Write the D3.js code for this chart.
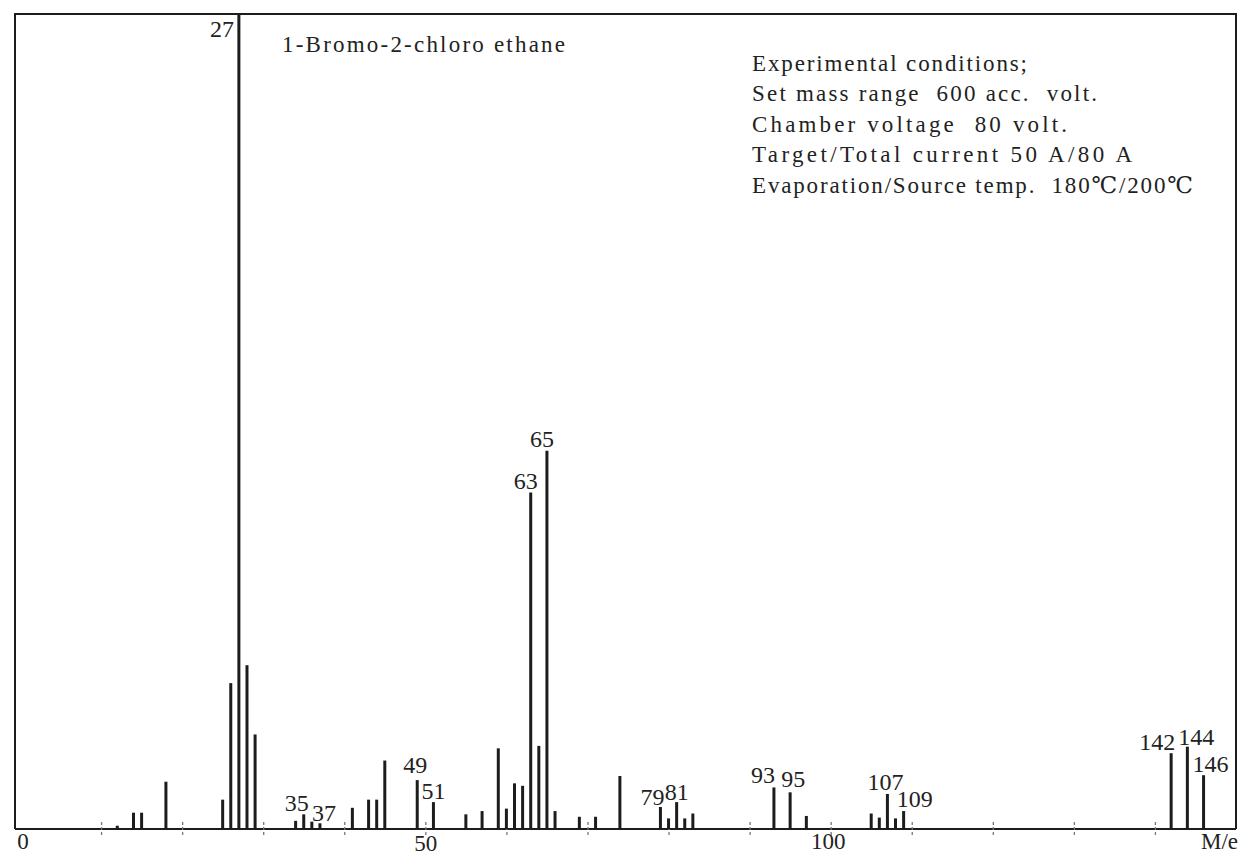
<!DOCTYPE html>
<html>
<head>
<meta charset="utf-8">
<script src="https://cdn.jsdelivr.net/npm/d3@7"></script>
<style>
  html, body { margin: 0; padding: 0; background: #ffffff; }
  svg { display: block; }
  text { font-family: "Liberation Serif", "DejaVu Serif", "Noto Sans CJK JP", serif; fill: #222; }
</style>
</head>
<body>
<svg id="chart" width="1239" height="856"></svg>
<script>
// ---- data (m/e and relative intensity, % of full scale) ----
const masses = [12, 14, 15, 18, 25, 26, 27, 28, 29, 34, 35, 36, 37, 41, 43, 44, 45, 49, 51,
                55, 57, 59, 60, 61, 62, 63, 64, 65, 66, 69, 71, 74, 79, 80, 81, 82, 83,
                93, 95, 97, 105, 106, 107, 108, 109, 142, 144, 146];
const intensities = [0.4, 2.0, 2.0, 5.8, 3.6, 17.9, 100, 20.1, 11.6, 1.0, 1.8, 0.9, 0.7, 2.6, 3.6, 3.6, 8.4, 6.0, 3.3,
                     1.8, 2.2, 9.9, 2.5, 5.6, 5.3, 41.3, 10.2, 46.4, 2.2, 1.5, 1.5, 6.5, 2.7, 1.3, 3.3, 1.3, 1.9,
                     5.1, 4.5, 1.6, 1.9, 1.4, 4.3, 1.3, 2.2, 9.3, 10.1, 6.6];
const labelledMasses = [27, 35, 37, 49, 51, 63, 65, 79, 81, 93, 95, 107, 109, 142, 144, 146];
const tickValues = [10, 20, 30, 40, 50, 60, 70, 80, 90, 100, 110, 120, 130, 140];
const tickLabels = [0, 50, 100];
const title = "1-Bromo-2-chloro ethane";
const conditions = [
  "Experimental conditions;",
  "Set mass range\u00a0 600 acc.\u00a0 volt.",
  "Chamber voltage\u00a0 80 volt.",
  "Target/Total current 50 A/80 A",
  "Evaporation/Source temp.\u00a0 180\u2103/200\u2103"
];
const axisTitle = "M/e";

// ---- layout / styling (not data) ----
const labelNudge = { // [dx, dy] text placement relative to the bar top
  27: [-5, -23], 35: [-7, 3], 37: [4, 2], 49: [-2, 7], 51: [0, 3], 63: [-5, 3], 65: [-5, 4],
  79: [-8, 2], 81: [0, 2], 93: [-11, 4], 95: [3, 5.5], 107: [-2, 4], 109: [11, 4.5],
  142: [-14, 3], 144: [9, 2], 146: [7, 3.5]
};
const condWidths = [275, 345, 315, 380, 441];

const svg = d3.select("#chart");
const frameLeft = 15, frameRight = 1236, frameTop = 14, frameBase = 829;

const x = d3.scaleLinear().domain([0, 150]).range([20, 1236]);
const y = d3.scaleLinear().domain([0, 100]).range([frameBase, frameTop]);

const ink = "#1c1c1c";

// frame
svg.append("path")
  .attr("d", `M${frameLeft},${frameBase}V${frameTop}H${frameRight}V${frameBase}`)
  .attr("fill", "none").attr("stroke", ink).attr("stroke-width", 2);

// baseline
svg.append("line")
  .attr("x1", frameLeft).attr("x2", frameRight).attr("y1", frameBase).attr("y2", frameBase)
  .attr("stroke", ink).attr("stroke-width", 2);

// minor ticks (straddling the baseline)
const tickAxis = d3.axisBottom(x).tickValues(tickValues).tickSize(14).tickFormat("");
const tg = svg.append("g").attr("transform", `translate(0,${frameBase - 7})`).call(tickAxis);
tg.select(".domain").remove();
tg.selectAll(".tick line").attr("stroke", "#777").attr("stroke-width", 1.3).attr("stroke-dasharray", "3,2");

// tick labels
const labAxis = d3.axisBottom(x).tickValues(tickLabels).tickSize(0).tickPadding(0).tickFormat(d3.format("d"));
const lg = svg.append("g").attr("transform", `translate(0,${frameBase})`).call(labAxis);
lg.select(".domain").remove();
lg.selectAll(".tick text")
  .attr("dy", null).attr("y", d => d === 50 ? 22 : 20)
  .attr("dx", d => d === 0 ? 2.5 : (d === 100 ? -3 : 0))
  .style("font-family", '"Liberation Serif", "DejaVu Serif", serif')
  .style("font-size", "23px").attr("fill", "#222");

svg.append("text").attr("x", 1238).attr("y", 849).attr("text-anchor", "end")
  .style("font-size", "23px").text(axisTitle);

// peaks
const peaks = masses.map((m, i) => ({ m, v: intensities[i] }));
svg.append("g").selectAll("line").data(peaks).join("line")
  .attr("x1", d => x(d.m)).attr("x2", d => x(d.m))
  .attr("y1", y(0)).attr("y2", d => y(d.v))
  .attr("stroke", ink).attr("stroke-width", 3);

// peak labels
const labelData = peaks.filter(d => labelledMasses.includes(d.m));
svg.append("g").selectAll("text").data(labelData).join("text")
  .attr("x", d => x(d.m) + labelNudge[d.m][0])
  .attr("y", d => y(d.v) - labelNudge[d.m][1])
  .attr("text-anchor", d => d.m === 27 ? "end" : "middle")
  .style("font-size", "24px")
  .text(d => d.m);

// title
svg.append("text").attr("x", 282).attr("y", 52)
  .attr("textLength", 283).attr("lengthAdjust", "spacing")
  .style("font-size", "23px").text(title);

// experimental conditions
svg.append("g").selectAll("text").data(conditions).join("text")
  .attr("x", 752).attr("y", (d, i) => 71 + i * 30.4)
  .attr("textLength", (d, i) => condWidths[i]).attr("lengthAdjust", "spacing")
  .style("font-size", "23px")
  .text(d => d);
</script>
</body>
</html>
